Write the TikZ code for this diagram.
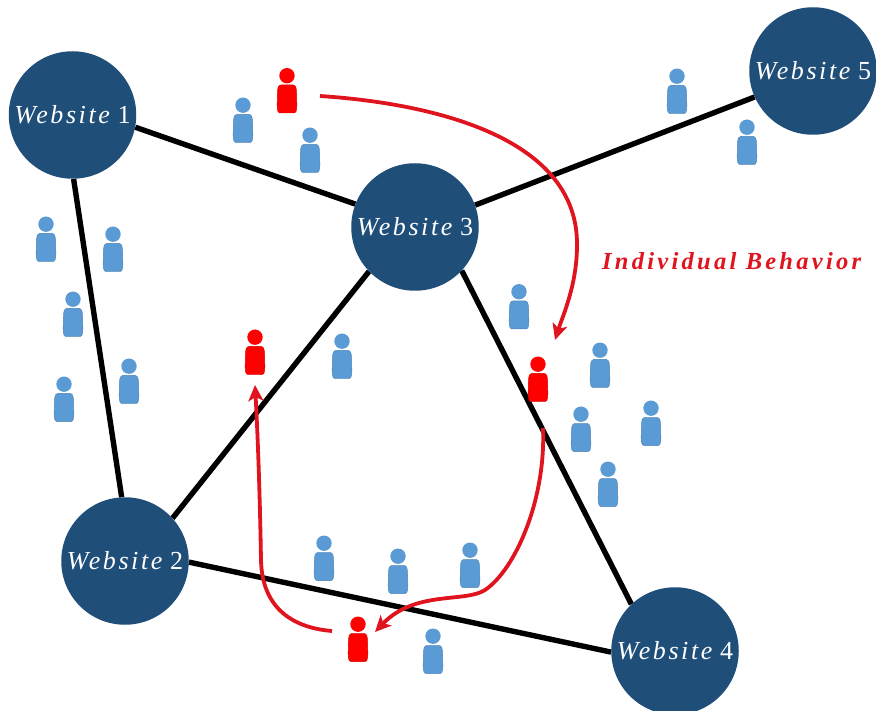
\documentclass[tikz,border=0pt]{standalone}
\usepackage{fontspec}
\setmainfont{Liberation Serif}
\newfontfamily\sitefont[LetterSpace=10]{Liberation Serif}
\newfontfamily\labelfont[LetterSpace=13.3]{Liberation Serif}
\usetikzlibrary{arrows.meta,backgrounds}
\definecolor{sitecol}{HTML}{1F4E79}
\definecolor{personblue}{HTML}{5B9BD5}
\definecolor{flowred}{HTML}{E0141E}
\newcommand{\sitename}[1]{\textit{Website}\hspace{-4pt} #1\hspace{3pt}}
\tikzset{
  x=1pt,y=-1pt,
  site/.style={circle,fill=sitecol,minimum size=127.5pt,inner sep=0pt,text=white,font=\sitefont\fontsize{26}{28}\selectfont},
  link/.style={black,line width=5.4pt},
  flow/.style={flowred,line width=3.8pt,-{Stealth[length=16pt,width=15pt,inset=4pt]}},
  pics/person/.style={code={
    \fill[#1] (0,-7.8) circle[radius=7.7];
    \filldraw[fill=#1,draw=#1!85!black,line width=.5pt] (-6,1.5) -- (6,1.5) .. controls (9,1.5) and (9.5,5) .. (9.5,10)
      .. controls (9.5,18) and (10.5,24) .. (9,28) .. controls (8.5,29.5) and (7,29.5) .. (6,29.5)
      -- (-6,29.5) .. controls (-7,29.5) and (-8.5,29.5) .. (-9,28)
      .. controls (-10.5,24) and (-9.5,18) .. (-9.5,10) .. controls (-9.5,5) and (-9,1.5) .. (-6,1.5) -- cycle;
  }}
}
\begin{document}
\begin{tikzpicture}
\useasboundingbox (0,0) rectangle (876,711);
\node[site] (w1) at (72.5,115) {\sitename{1}};
\node[site] (w2) at (125,561) {\sitename{2}};
\node[site] (w3) at (415,227) {\sitename{3}};
\node[site] (w4) at (675,651) {\sitename{4}};
\node[site] (w5) at (813,71) {\sitename{5}};
\node[text=flowred,font=\labelfont\fontsize{24.5}{26}\selectfont\bfseries\itshape,anchor=west,inner sep=0pt] (label) at (602,261) {Individual Behavior};
\begin{scope}[on background layer]
\draw[link] (w1.349) -- (w3.159);
\draw[link] (w1.271) -- (w2.93);
\draw[link] (w2.42) -- (w3.224);
\draw[link] (w2.359) -- (w4.181);
\draw[link] (w3.317) -- (w4.133);
\draw[link] (w3.20) -- (w5.204);
\end{scope}
\foreach \px/\py [count=\i] in {243/113,310/143,677/84,747/135,46/232,113/242,73/307,129/374,64/392,342/349,519/299.5,600/358,581/422,651/416,608/477,324/551,398/564,470/558,433/644}
  \pic (b\i) at (\px,\py) {person={personblue}};
\foreach \px/\py [count=\i] in {287/83.5,255/345,538/372,358/632}
  \pic (r\i) at (\px,\py) {person={red}};
\coordinate (a1s) at (320,96);
\coordinate (a1e) at (555,340);
\coordinate (a2s) at (543,428);
\coordinate (a2e) at (375,632);
\coordinate (a3s) at (332,631);
\coordinate (a3e) at (255,385);
\draw[flow] (a1s) .. controls (440,104) and (578,140) .. (577,245) .. controls (577,285) and (563,315) .. (a1e);
\draw[flow] (a2s) .. controls (546,500) and (515,570) .. (485,590) .. controls (465,603) and (415,590) .. (a2e);
\draw[flow] (a3s) .. controls (295,628) and (262,610) .. (261,560) .. controls (260,500) and (258,440) .. (a3e);
\end{tikzpicture}
\end{document}
